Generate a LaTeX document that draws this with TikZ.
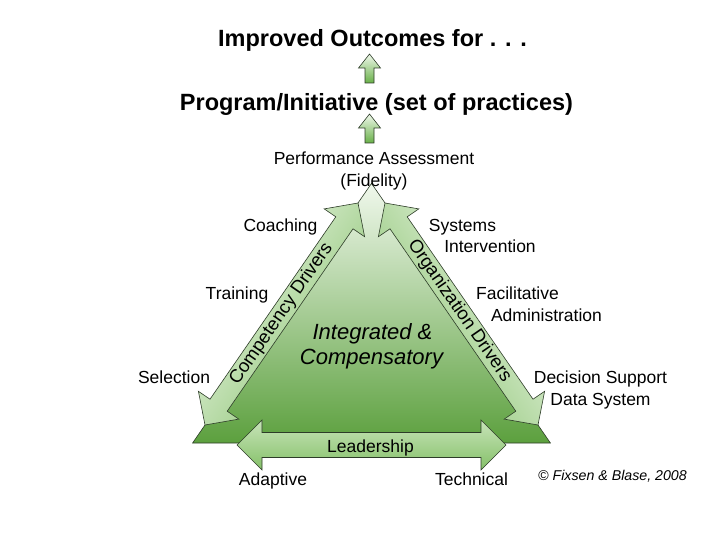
\documentclass[tikz,border=0pt]{standalone}
\usepackage{fontspec}
\setmainfont{Liberation Sans}
\definecolor{gPale}{RGB}{240,248,236}
\definecolor{gLight}{RGB}{200,228,185}
\definecolor{gMid}{RGB}{132,192,104}
\definecolor{gTri}{RGB}{146,199,118}
\definecolor{gDark}{RGB}{92,160,62}
\definecolor{gArrow}{RGB}{104,176,72}
\definecolor{edge}{RGB}{45,60,40}
\begin{document}
\begin{tikzpicture}[x=1pt,y=-1pt,
  lbl/.style={font=\fontsize{17.5}{21}\selectfont, inner sep=0pt, anchor=base},
  rot/.style={font=\fontsize{18.5}{22}\selectfont, inner sep=0pt, anchor=center},
  ttl/.style={font=\bfseries\fontsize{23.5}{28}\selectfont, inner sep=0pt, anchor=base},
  outl/.style={draw=edge, line width=0.6pt, line join=miter},
]
\useasboundingbox (0,0) rectangle (720,540);

% titles and small arrows
\node[ttl] (outcomes) at (372.5,47) {Improved Outcomes for . . .};
\node[ttl] (program) at (376.5,111) {Program/Initiative (set of practices)};
\path[outl, top color=gPale, bottom color=gArrow]
  (369.5,54) -- (380.5,68) -- (374,68) -- (374,83) -- (365,83) -- (365,68) -- (358.5,68) -- cycle;
\path[outl, top color=gPale, bottom color=gArrow]
  (369.5,114) -- (380.5,128) -- (374,128) -- (374,143) -- (365,143) -- (365,128) -- (358.5,128) -- cycle;

% main triangle
\path[outl, top color=gPale, middle color=gTri, bottom color=gDark]
  (192.6,443) -- (371.5,183.4) -- (550.4,443) -- cycle;

% competency drivers arrow (left)
\path[outl, top color=gPale, bottom color=gMid, shading angle=55.4]
  (205,425) -- (198.4,391.3) -- (210.0,399.2) -- (335.8,216.8) -- (324.2,208.9)
  -- (358,203) -- (364.6,236.7) -- (353.0,228.8) -- (227.2,411.2) -- (238.8,419.1) -- cycle;
% organization drivers arrow (right)
\path[outl, top color=gPale, bottom color=gMid, shading angle=-55.4]
  (538,425) -- (544.6,391.3) -- (533.0,399.2) -- (407.2,216.8) -- (418.8,208.9)
  -- (385,203) -- (378.4,236.7) -- (390.0,228.8) -- (515.8,411.2) -- (504.2,419.1) -- cycle;
% leadership arrow
\path[outl, top color=gLight, middle color=gPale, bottom color=gMid]
  (237,445) -- (262,420) -- (262,432.5) -- (481,432.5) -- (481,420) -- (506,445)
  -- (481,470) -- (481,457.5) -- (262,457.5) -- (262,470) -- cycle;

% labels
\node[lbl] (perf) at (374,165) {Performance Assessment};
\node[lbl] (fid) at (374,187) {(Fidelity)};
\node[lbl] (coach) at (280.5,231) {Coaching};
\node[lbl] (sys) at (462.5,231) {Systems};
\node[lbl] (interv) at (490,252) {Intervention};
\node[lbl] (train) at (237,299) {Training};
\node[lbl] (facil) at (517.5,299) {Facilitative};
\node[lbl] (admin) at (546.5,321) {Administration};
\node[lbl] (sel) at (174,383) {Selection};
\node[lbl] (dec) at (600.5,383) {Decision Support};
\node[lbl] (data) at (600.5,405) {Data System};
\node[lbl, font=\itshape\fontsize{22}{26}\selectfont] (integ) at (372.5,339) {Integrated \&};
\node[lbl, font=\itshape\fontsize{22}{26}\selectfont] (comp) at (371.5,364) {Compensatory};
\node[lbl] (lead) at (370.5,452) {Leadership};
\node[lbl] (adapt) at (273,485) {Adaptive};
\node[lbl] (tech) at (471.5,485) {Technical};
\node[lbl, font=\itshape\fontsize{14.2}{17}\selectfont] (copy) at (612.5,480) {© Fixsen \& Blase, 2008};
\node[rot, rotate=55.4] (compd) at (281.5,314) {Competency Drivers};
\node[rot, rotate=-55.4] (orgd) at (459.5,311) {Organization Drivers};
\end{tikzpicture}
\end{document}
